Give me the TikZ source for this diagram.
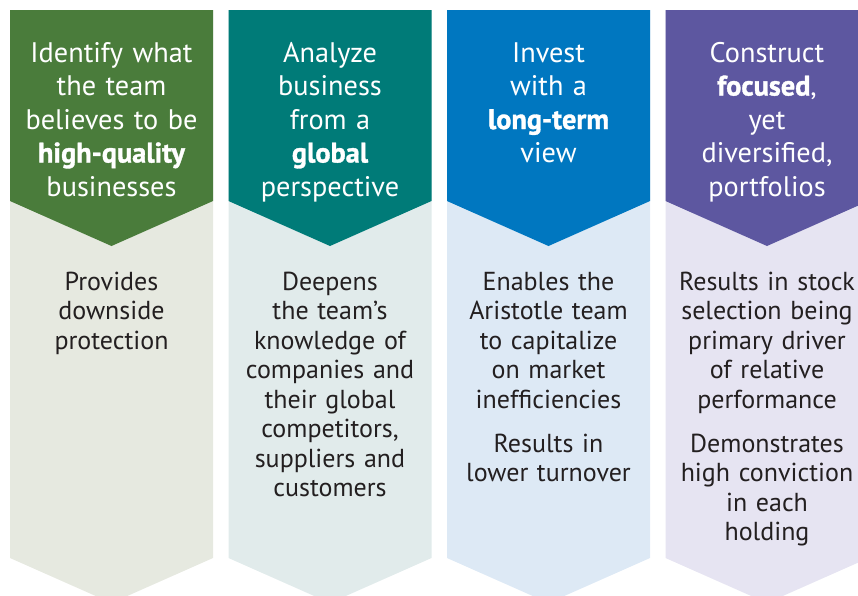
\documentclass[tikz,border=0pt]{standalone}
\usepackage{fontspec}
\setmainfont{PT Sans}
\usetikzlibrary{positioning}

\definecolor{leafgreen}{RGB}{74,124,59}
\definecolor{leafpale}{RGB}{230,233,224}
\definecolor{tealdark}{RGB}{0,123,120}
\definecolor{tealpale}{RGB}{225,235,235}
\definecolor{oceanblue}{RGB}{0,119,192}
\definecolor{oceanpale}{RGB}{221,233,245}
\definecolor{plumviolet}{RGB}{93,87,160}
\definecolor{plumpale}{RGB}{230,228,242}
\definecolor{inkgray}{RGB}{35,31,32}

% sizes of one column (in pt, y grows downwards)
\newcommand{\halfw}{101.5}
\newcommand{\topy}{10}
\newcommand{\heady}{201}
\newcommand{\footy}{558}
\newcommand{\notch}{45}

% heavier bold for the key words
\newfontfamily\keyfont{PT Sans Bold}[FakeBold=1.2]
\newcommand{\key}[1]{{\keyfont #1}}

% pale body with the coloured chevron on top of it
\newcommand{\drawpanel}[3]{%
\fill[#3] (#1-\halfw,\topy) -- (#1+\halfw,\topy) -- (#1+\halfw,\footy)
  -- (#1,\footy+\notch) -- (#1-\halfw,\footy) -- cycle;
\fill[#2] (#1-\halfw,\topy) -- (#1+\halfw,\topy) -- (#1+\halfw,\heady)
  -- (#1,\heady+\notch) -- (#1-\halfw,\heady) -- cycle;
}

\tikzset{
  headtext/.style={anchor=base, inner sep=0pt, text width=196pt, align=center,
    text=white, font=\fontsize{28.3}{33.5}\selectfont},
  bodytext/.style={anchor=base, inner sep=0pt, text width=196pt, align=center,
    text=inkgray, font=\fontsize{26}{29.5}\selectfont},
}

\begin{document}
\begin{tikzpicture}[x=1pt,y=-1pt]

\useasboundingbox (0,0) rectangle (858,595);
\clip (0,0) rectangle (858,595);

\drawpanel{111.5}{leafgreen}{leafpale}
\drawpanel{330}{tealdark}{tealpale}
\drawpanel{548.5}{oceanblue}{oceanpale}
\drawpanel{767}{plumviolet}{plumpale}

% headings
\node[headtext] (quality) at (111.5,62)
  {Identify what\\the team\\believes to be\\\key{high-quality}\\businesses};
\node[headtext] (global) at (330,62)
  {Analyze\\business\\from a\\\key{global}\\perspective};
\node[headtext] (longterm) at (548.5,62)
  {Invest\\with a\\\key{long-term}\\view};
\node[headtext] (focused) at (767,62)
  {Construct\\\key{focused},\\yet\\diversified,\\portfolios};

% what each one gives
\node[bodytext] (downside) at (111.5,290)
  {Provides\\downside\\protection};
\node[bodytext] (knowledge) at (330,290)
  {Deepens\\the team’s\\knowledge of\\companies and\\their global\\competitors,\\suppliers and\\customers};
\node[bodytext] (turnover) at (548.5,290)
  {Enables the\\Aristotle team\\to capitalize\\on market\\inefficiencies\\[14.5pt]Results in\\lower turnover};
\node[bodytext] (conviction) at (767,290)
  {Results in stock\\selection being\\primary driver\\of relative\\performance\\[14.5pt]Demonstrates\\high conviction\\in each\\holding};

\end{tikzpicture}
\end{document}
